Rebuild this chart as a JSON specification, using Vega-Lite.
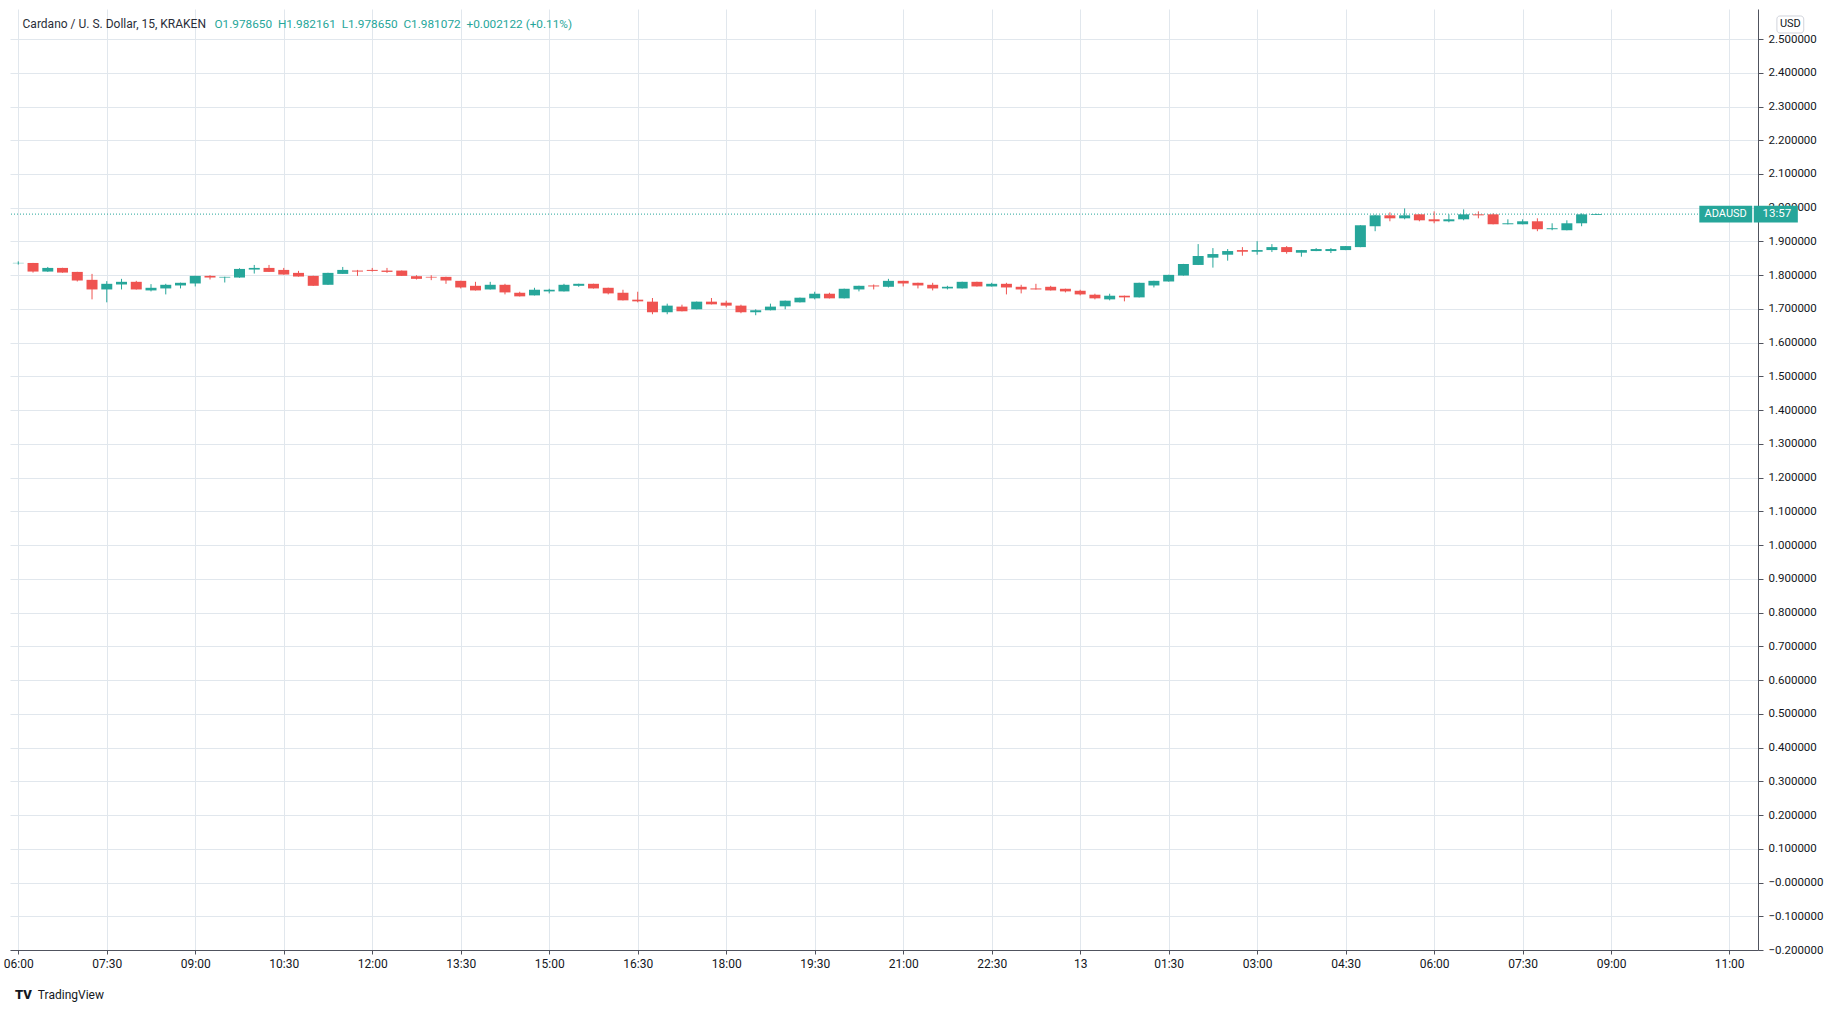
{
  "$schema": "https://vega.github.io/schema/vega-lite/v6.json",
  "width": 1748,
  "height": 941,
  "autosize": {"type": "none"},
  "padding": {"left": 10, "top": 9, "right": 86, "bottom": 64},
  "background": "#ffffff",
  "config": {"view": {"stroke": null}, "font": "Roboto", "axis": {"labelOverlap": false, "labelBound": false, "labelFlush": false}, "axisY": {"labelOverlap": false, "tickCount": 28}},
  "data": {"values": [
    {"t":"2021-08-12T06:00:00Z","o":1.8355,"h":1.8410,"l":1.8315,"c":1.8365},
    {"t":"2021-08-12T06:15:00Z","o":1.8363,"h":1.8365,"l":1.8078,"c":1.8108},
    {"t":"2021-08-12T06:30:00Z","o":1.8108,"h":1.8245,"l":1.8100,"c":1.8216},
    {"t":"2021-08-12T06:45:00Z","o":1.8216,"h":1.8220,"l":1.8075,"c":1.8078},
    {"t":"2021-08-12T07:00:00Z","o":1.8098,"h":1.8100,"l":1.7814,"c":1.7843},
    {"t":"2021-08-12T07:15:00Z","o":1.7863,"h":1.8039,"l":1.7284,"c":1.7578},
    {"t":"2021-08-12T07:30:00Z","o":1.7578,"h":1.7824,"l":1.7196,"c":1.7745},
    {"t":"2021-08-12T07:45:00Z","o":1.7725,"h":1.7892,"l":1.7578,"c":1.7804},
    {"t":"2021-08-12T08:00:00Z","o":1.7804,"h":1.7833,"l":1.7575,"c":1.7578},
    {"t":"2021-08-12T08:15:00Z","o":1.7549,"h":1.7735,"l":1.7520,"c":1.7627},
    {"t":"2021-08-12T08:30:00Z","o":1.7608,"h":1.7745,"l":1.7431,"c":1.7716},
    {"t":"2021-08-12T08:45:00Z","o":1.7696,"h":1.7780,"l":1.7608,"c":1.7775},
    {"t":"2021-08-12T09:00:00Z","o":1.7755,"h":1.7985,"l":1.7667,"c":1.7980},
    {"t":"2021-08-12T09:15:00Z","o":1.7980,"h":1.8000,"l":1.7873,"c":1.7931},
    {"t":"2021-08-12T09:30:00Z","o":1.7931,"h":1.7955,"l":1.7784,"c":1.7951},
    {"t":"2021-08-12T09:45:00Z","o":1.7931,"h":1.8206,"l":1.7925,"c":1.8186},
    {"t":"2021-08-12T10:00:00Z","o":1.8167,"h":1.8304,"l":1.8049,"c":1.8216},
    {"t":"2021-08-12T10:15:00Z","o":1.8216,"h":1.8304,"l":1.8095,"c":1.8098},
    {"t":"2021-08-12T10:30:00Z","o":1.8157,"h":1.8216,"l":1.8015,"c":1.8020},
    {"t":"2021-08-12T10:45:00Z","o":1.8069,"h":1.8128,"l":1.7958,"c":1.7961},
    {"t":"2021-08-12T11:00:00Z","o":1.7980,"h":1.7985,"l":1.7683,"c":1.7686},
    {"t":"2021-08-12T11:15:00Z","o":1.7716,"h":1.8072,"l":1.7713,"c":1.8069},
    {"t":"2021-08-12T11:30:00Z","o":1.8039,"h":1.8245,"l":1.8036,"c":1.8157},
    {"t":"2021-08-12T11:45:00Z","o":1.8137,"h":1.8157,"l":1.7980,"c":1.8108},
    {"t":"2021-08-12T12:00:00Z","o":1.8157,"h":1.8216,"l":1.8108,"c":1.8127},
    {"t":"2021-08-12T12:15:00Z","o":1.8137,"h":1.8216,"l":1.8069,"c":1.8098},
    {"t":"2021-08-12T12:30:00Z","o":1.8137,"h":1.8140,"l":1.7978,"c":1.7980},
    {"t":"2021-08-12T12:45:00Z","o":1.7971,"h":1.8000,"l":1.7873,"c":1.7892},
    {"t":"2021-08-12T13:00:00Z","o":1.7951,"h":1.8000,"l":1.7853,"c":1.7931},
    {"t":"2021-08-12T13:15:00Z","o":1.7951,"h":1.7955,"l":1.7745,"c":1.7843},
    {"t":"2021-08-12T13:30:00Z","o":1.7833,"h":1.7836,"l":1.7608,"c":1.7637},
    {"t":"2021-08-12T13:45:00Z","o":1.7686,"h":1.7804,"l":1.7546,"c":1.7549},
    {"t":"2021-08-12T14:00:00Z","o":1.7578,"h":1.7804,"l":1.7575,"c":1.7716},
    {"t":"2021-08-12T14:15:00Z","o":1.7716,"h":1.7745,"l":1.7431,"c":1.7490},
    {"t":"2021-08-12T14:30:00Z","o":1.7480,"h":1.7510,"l":1.7370,"c":1.7373},
    {"t":"2021-08-12T14:45:00Z","o":1.7402,"h":1.7627,"l":1.7399,"c":1.7569},
    {"t":"2021-08-12T15:00:00Z","o":1.7520,"h":1.7598,"l":1.7461,"c":1.7569},
    {"t":"2021-08-12T15:15:00Z","o":1.7520,"h":1.7745,"l":1.7517,"c":1.7716},
    {"t":"2021-08-12T15:30:00Z","o":1.7686,"h":1.7748,"l":1.7657,"c":1.7745},
    {"t":"2021-08-12T15:45:00Z","o":1.7745,"h":1.7748,"l":1.7605,"c":1.7608},
    {"t":"2021-08-12T16:00:00Z","o":1.7627,"h":1.7630,"l":1.7431,"c":1.7461},
    {"t":"2021-08-12T16:15:00Z","o":1.7480,"h":1.7569,"l":1.7252,"c":1.7255},
    {"t":"2021-08-12T16:30:00Z","o":1.7275,"h":1.7510,"l":1.7196,"c":1.7225},
    {"t":"2021-08-12T16:45:00Z","o":1.7216,"h":1.7324,"l":1.6843,"c":1.6902},
    {"t":"2021-08-12T17:00:00Z","o":1.6902,"h":1.7157,"l":1.6843,"c":1.7098},
    {"t":"2021-08-12T17:15:00Z","o":1.7069,"h":1.7127,"l":1.6928,"c":1.6931},
    {"t":"2021-08-12T17:30:00Z","o":1.6990,"h":1.7219,"l":1.6987,"c":1.7216},
    {"t":"2021-08-12T17:45:00Z","o":1.7216,"h":1.7324,"l":1.7134,"c":1.7137},
    {"t":"2021-08-12T18:00:00Z","o":1.7186,"h":1.7245,"l":1.7049,"c":1.7098},
    {"t":"2021-08-12T18:15:00Z","o":1.7098,"h":1.7127,"l":1.6873,"c":1.6902},
    {"t":"2021-08-12T18:30:00Z","o":1.6902,"h":1.6990,"l":1.6814,"c":1.6961},
    {"t":"2021-08-12T18:45:00Z","o":1.6961,"h":1.7157,"l":1.6958,"c":1.7069},
    {"t":"2021-08-12T19:00:00Z","o":1.7078,"h":1.7248,"l":1.6990,"c":1.7245},
    {"t":"2021-08-12T19:15:00Z","o":1.7196,"h":1.7336,"l":1.7193,"c":1.7333},
    {"t":"2021-08-12T19:30:00Z","o":1.7314,"h":1.7510,"l":1.7284,"c":1.7451},
    {"t":"2021-08-12T19:45:00Z","o":1.7451,"h":1.7480,"l":1.7311,"c":1.7314},
    {"t":"2021-08-12T20:00:00Z","o":1.7314,"h":1.7601,"l":1.7311,"c":1.7598},
    {"t":"2021-08-12T20:15:00Z","o":1.7578,"h":1.7689,"l":1.7520,"c":1.7686},
    {"t":"2021-08-12T20:30:00Z","o":1.7696,"h":1.7725,"l":1.7578,"c":1.7667},
    {"t":"2021-08-12T20:45:00Z","o":1.7657,"h":1.7892,"l":1.7637,"c":1.7833},
    {"t":"2021-08-12T21:00:00Z","o":1.7833,"h":1.7836,"l":1.7667,"c":1.7755},
    {"t":"2021-08-12T21:15:00Z","o":1.7775,"h":1.7778,"l":1.7608,"c":1.7696},
    {"t":"2021-08-12T21:30:00Z","o":1.7716,"h":1.7775,"l":1.7549,"c":1.7608},
    {"t":"2021-08-12T21:45:00Z","o":1.7608,"h":1.7686,"l":1.7578,"c":1.7657},
    {"t":"2021-08-12T22:00:00Z","o":1.7608,"h":1.7807,"l":1.7605,"c":1.7804},
    {"t":"2021-08-12T22:15:00Z","o":1.7804,"h":1.7807,"l":1.7664,"c":1.7667},
    {"t":"2021-08-12T22:30:00Z","o":1.7667,"h":1.7775,"l":1.7664,"c":1.7745},
    {"t":"2021-08-12T22:45:00Z","o":1.7745,"h":1.7775,"l":1.7431,"c":1.7637},
    {"t":"2021-08-12T23:00:00Z","o":1.7657,"h":1.7716,"l":1.7461,"c":1.7578},
    {"t":"2021-08-12T23:15:00Z","o":1.7608,"h":1.7745,"l":1.7575,"c":1.7578},
    {"t":"2021-08-12T23:30:00Z","o":1.7657,"h":1.7686,"l":1.7546,"c":1.7549},
    {"t":"2021-08-12T23:45:00Z","o":1.7598,"h":1.7601,"l":1.7490,"c":1.7520},
    {"t":"2021-08-13T00:00:00Z","o":1.7539,"h":1.7569,"l":1.7402,"c":1.7431},
    {"t":"2021-08-13T00:15:00Z","o":1.7422,"h":1.7451,"l":1.7284,"c":1.7314},
    {"t":"2021-08-13T00:30:00Z","o":1.7284,"h":1.7451,"l":1.7255,"c":1.7392},
    {"t":"2021-08-13T00:45:00Z","o":1.7392,"h":1.7395,"l":1.7225,"c":1.7343},
    {"t":"2021-08-13T01:00:00Z","o":1.7343,"h":1.7778,"l":1.7340,"c":1.7775},
    {"t":"2021-08-13T01:15:00Z","o":1.7696,"h":1.7836,"l":1.7637,"c":1.7833},
    {"t":"2021-08-13T01:30:00Z","o":1.7814,"h":1.8013,"l":1.7811,"c":1.8010},
    {"t":"2021-08-13T01:45:00Z","o":1.7990,"h":1.8336,"l":1.7987,"c":1.8333},
    {"t":"2021-08-13T02:00:00Z","o":1.8304,"h":1.8922,"l":1.8301,"c":1.8569},
    {"t":"2021-08-13T02:15:00Z","o":1.8520,"h":1.8804,"l":1.8225,"c":1.8627},
    {"t":"2021-08-13T02:30:00Z","o":1.8608,"h":1.8775,"l":1.8431,"c":1.8716},
    {"t":"2021-08-13T02:45:00Z","o":1.8745,"h":1.8833,"l":1.8578,"c":1.8696},
    {"t":"2021-08-13T03:00:00Z","o":1.8696,"h":1.9010,"l":1.8608,"c":1.8745},
    {"t":"2021-08-13T03:15:00Z","o":1.8745,"h":1.8922,"l":1.8686,"c":1.8833},
    {"t":"2021-08-13T03:30:00Z","o":1.8833,"h":1.8863,"l":1.8637,"c":1.8686},
    {"t":"2021-08-13T03:45:00Z","o":1.8667,"h":1.8748,"l":1.8549,"c":1.8745},
    {"t":"2021-08-13T04:00:00Z","o":1.8716,"h":1.8804,"l":1.8713,"c":1.8775},
    {"t":"2021-08-13T04:15:00Z","o":1.8716,"h":1.8804,"l":1.8657,"c":1.8775},
    {"t":"2021-08-13T04:30:00Z","o":1.8745,"h":1.8866,"l":1.8742,"c":1.8863},
    {"t":"2021-08-13T04:45:00Z","o":1.8833,"h":1.9483,"l":1.8830,"c":1.9480},
    {"t":"2021-08-13T05:00:00Z","o":1.9451,"h":1.9794,"l":1.9304,"c":1.9775},
    {"t":"2021-08-13T05:15:00Z","o":1.9775,"h":1.9863,"l":1.9598,"c":1.9686},
    {"t":"2021-08-13T05:30:00Z","o":1.9686,"h":1.9980,"l":1.9657,"c":1.9775},
    {"t":"2021-08-13T05:45:00Z","o":1.9804,"h":1.9807,"l":1.9598,"c":1.9627},
    {"t":"2021-08-13T06:00:00Z","o":1.9657,"h":1.9892,"l":1.9539,"c":1.9598},
    {"t":"2021-08-13T06:15:00Z","o":1.9598,"h":1.9804,"l":1.9569,"c":1.9657},
    {"t":"2021-08-13T06:30:00Z","o":1.9657,"h":1.9951,"l":1.9627,"c":1.9804},
    {"t":"2021-08-13T06:45:00Z","o":1.9804,"h":1.9892,"l":1.9686,"c":1.9775},
    {"t":"2021-08-13T07:00:00Z","o":1.9804,"h":1.9833,"l":1.9507,"c":1.9510},
    {"t":"2021-08-13T07:15:00Z","o":1.9510,"h":1.9657,"l":1.9507,"c":1.9539},
    {"t":"2021-08-13T07:30:00Z","o":1.9510,"h":1.9657,"l":1.9507,"c":1.9598},
    {"t":"2021-08-13T07:45:00Z","o":1.9598,"h":1.9686,"l":1.9304,"c":1.9363},
    {"t":"2021-08-13T08:00:00Z","o":1.9363,"h":1.9539,"l":1.9333,"c":1.9392},
    {"t":"2021-08-13T08:15:00Z","o":1.9333,"h":1.9627,"l":1.9330,"c":1.9539},
    {"t":"2021-08-13T08:30:00Z","o":1.9539,"h":1.9833,"l":1.9451,"c":1.9804},
    {"t":"2021-08-13T08:45:00Z","o":1.97865,"h":1.982161,"l":1.97865,"c":1.981072}
  ]},
  "layer": [
    {
      "mark": {"type": "rule", "strokeWidth": 1},
      "encoding": {
        "x": {"field": "t", "type": "temporal",
          "scale": {"type": "utc", "domain": [
            {"year": 2021, "month": 8, "date": 12, "hours": 5, "minutes": 56, "seconds": 40, "utc": true},
            {"year": 2021, "month": 8, "date": 13, "hours": 11, "minutes": 24, "seconds": 18, "utc": true}]},
          "axis": {
            "title": null, "orient": "bottom",
            "values": [
              {"year": 2021, "month": 8, "date": 12, "hours": 6, "minutes": 0, "utc": true},
              {"year": 2021, "month": 8, "date": 12, "hours": 7, "minutes": 30, "utc": true},
              {"year": 2021, "month": 8, "date": 12, "hours": 9, "minutes": 0, "utc": true},
              {"year": 2021, "month": 8, "date": 12, "hours": 10, "minutes": 30, "utc": true},
              {"year": 2021, "month": 8, "date": 12, "hours": 12, "minutes": 0, "utc": true},
              {"year": 2021, "month": 8, "date": 12, "hours": 13, "minutes": 30, "utc": true},
              {"year": 2021, "month": 8, "date": 12, "hours": 15, "minutes": 0, "utc": true},
              {"year": 2021, "month": 8, "date": 12, "hours": 16, "minutes": 30, "utc": true},
              {"year": 2021, "month": 8, "date": 12, "hours": 18, "minutes": 0, "utc": true},
              {"year": 2021, "month": 8, "date": 12, "hours": 19, "minutes": 30, "utc": true},
              {"year": 2021, "month": 8, "date": 12, "hours": 21, "minutes": 0, "utc": true},
              {"year": 2021, "month": 8, "date": 12, "hours": 22, "minutes": 30, "utc": true},
              {"year": 2021, "month": 8, "date": 13, "hours": 0, "minutes": 0, "utc": true},
              {"year": 2021, "month": 8, "date": 13, "hours": 1, "minutes": 30, "utc": true},
              {"year": 2021, "month": 8, "date": 13, "hours": 3, "minutes": 0, "utc": true},
              {"year": 2021, "month": 8, "date": 13, "hours": 4, "minutes": 30, "utc": true},
              {"year": 2021, "month": 8, "date": 13, "hours": 6, "minutes": 0, "utc": true},
              {"year": 2021, "month": 8, "date": 13, "hours": 7, "minutes": 30, "utc": true},
              {"year": 2021, "month": 8, "date": 13, "hours": 9, "minutes": 0, "utc": true},
              {"year": 2021, "month": 8, "date": 13, "hours": 11, "minutes": 0, "utc": true}
            ],
            "labelExpr": "utcFormat(datum.value, '%H:%M') == '00:00' ? utcFormat(datum.value, '%d') : utcFormat(datum.value, '%H:%M')",
            "grid": true, "gridColor": "#e1e7ed", "gridWidth": 1,
            "domainColor": "#50535e", "domainWidth": 1,
            "tickColor": "#50535e", "tickSize": 4,
            "labelFont": "Roboto", "labelFontSize": 12, "labelColor": "#131722",
            "labelPadding": 4, "labelFlush": false, "labelOverlap": false, "labelBound": false
          }
        },
        "y": {"field": "l", "type": "quantitative",
          "scale": {"domain": [-0.2, 2.589], "nice": false, "zero": false},
          "axis": {
            "title": null, "orient": "right",
            "values": [-0.2, -0.1, 0, 0.1, 0.2, 0.3, 0.4, 0.5, 0.6, 0.7, 0.8, 0.9, 1.0, 1.1, 1.2, 1.3, 1.4, 1.5, 1.6, 1.7, 1.8, 1.9, 2.0, 2.1, 2.2, 2.3, 2.4, 2.5],
            "tickCount": 28,
            "labelExpr": "abs(datum.value) < 0.00001 ? '\u22120.000000' : format(datum.value, '.6f')",
            "grid": true, "gridColor": "#e1e7ed", "gridWidth": 1,
            "domainColor": "#50535e", "domainWidth": 1,
            "tickColor": "#50535e", "tickSize": 5,
            "labelFont": "Roboto", "labelFontSize": 11.5, "labelColor": "#131722",
            "labelPadding": 5, "labelAlign": "left", "labelFlush": false, "labelOverlap": false, "labelBound": false
          }
        },
        "y2": {"field": "h"},
        "color": {"condition": {"test": "datum.c >= datum.o", "value": "#26a69a"}, "value": "#ef5350"}
      }
    },
    {
      "data": {"values": [{}]},
      "mark": {"type": "rule", "color": "#26a69a", "strokeWidth": 1, "strokeDash": [1, 2]},
      "encoding": {
        "y": {"datum": 1.981072, "type": "quantitative"}
      }
    },
    {
      "mark": {"type": "bar", "size": 11},
      "encoding": {
        "x": {"field": "t", "type": "temporal"},
        "y": {"field": "o", "type": "quantitative"},
        "y2": {"field": "c"},
        "color": {"condition": {"test": "datum.c >= datum.o", "value": "#26a69a"}, "value": "#ef5350"}
      }
    },
    {
      "data": {"values": [{}]},
      "mark": {"type": "text", "align": "left", "baseline": "middle", "fontSize": 12, "font": "Roboto", "color": "#2a2e39", "text": "Cardano / U. S. Dollar, 15, KRAKEN"},
      "encoding": {
        "x": {"datum": {"year": 2021, "month": 8, "date": 12, "hours": 6, "minutes": 4, "seconds": 21, "utc": true}, "type": "temporal"},
        "y": {"datum": 2.5445, "type": "quantitative"}
      }
    },
    {
      "data": {"values": [{}]},
      "mark": {"type": "text", "align": "left", "baseline": "middle", "fontSize": 11.8, "font": "Roboto", "color": "#26a69a", "text": "O1.978650\u00a0\u00a0H1.982161\u00a0\u00a0L1.978650\u00a0\u00a0C1.981072\u00a0\u00a0+0.002122 (+0.11%)"},
      "encoding": {
        "x": {"datum": {"year": 2021, "month": 8, "date": 12, "hours": 9, "minutes": 19, "seconds": 30, "utc": true}, "type": "temporal"},
        "y": {"datum": 2.5445, "type": "quantitative"}
      }
    },
    {
      "data": {"values": [{}]},
      "mark": {"type": "rect", "color": "#26a69a"},
      "encoding": {
        "x": {"datum": {"year": 2021, "month": 8, "date": 13, "hours": 10, "minutes": 29, "seconds": 42, "utc": true}, "type": "temporal"},
        "x2": {"datum": {"year": 2021, "month": 8, "date": 13, "hours": 11, "minutes": 23, "seconds": 30, "utc": true}},
        "y": {"datum": 1.9564, "type": "quantitative"},
        "y2": {"datum": 2.0058}
      }
    },
    {
      "data": {"values": [{}]},
      "mark": {"type": "rect", "color": "#26a69a"},
      "encoding": {
        "x": {"datum": {"year": 2021, "month": 8, "date": 13, "hours": 11, "minutes": 25, "seconds": 6, "utc": true}, "type": "temporal"},
        "x2": {"datum": {"year": 2021, "month": 8, "date": 13, "hours": 12, "minutes": 9, "seconds": 54, "utc": true}},
        "y": {"datum": 1.9564, "type": "quantitative"},
        "y2": {"datum": 2.0058}
      }
    },
    {
      "data": {"values": [{}]},
      "mark": {"type": "text", "align": "center", "baseline": "middle", "fontSize": 11, "font": "Roboto", "color": "#ffffff", "text": "ADAUSD"},
      "encoding": {
        "x": {"datum": {"year": 2021, "month": 8, "date": 13, "hours": 10, "minutes": 56, "seconds": 30, "utc": true}, "type": "temporal"},
        "y": {"datum": 1.981, "type": "quantitative"}
      }
    },
    {
      "data": {"values": [{}]},
      "mark": {"type": "text", "align": "center", "baseline": "middle", "fontSize": 11.5, "font": "Roboto", "color": "#ffffff", "text": "13:57"},
      "encoding": {
        "x": {"datum": {"year": 2021, "month": 8, "date": 13, "hours": 11, "minutes": 48, "seconds": 36, "utc": true}, "type": "temporal"},
        "y": {"datum": 1.981, "type": "quantitative"}
      }
    },
    {
      "data": {"values": [{}]},
      "mark": {"type": "rect", "fill": "#ffffff", "stroke": "#d1d4dc", "strokeWidth": 1, "cornerRadius": 3},
      "encoding": {
        "x": {"datum": {"year": 2021, "month": 8, "date": 13, "hours": 11, "minutes": 48, "seconds": 36, "utc": true}, "type": "temporal"},
        "x2": {"datum": {"year": 2021, "month": 8, "date": 13, "hours": 12, "minutes": 15, "seconds": 54, "utc": true}},
        "y": {"datum": 2.5179, "type": "quantitative"},
        "y2": {"datum": 2.5683}
      }
    },
    {
      "data": {"values": [{}]},
      "mark": {"type": "text", "align": "center", "baseline": "middle", "fontSize": 11, "font": "Roboto", "color": "#131722", "text": "USD"},
      "encoding": {
        "x": {"datum": {"year": 2021, "month": 8, "date": 13, "hours": 12, "minutes": 2, "seconds": 15, "utc": true}, "type": "temporal"},
        "y": {"datum": 2.5431, "type": "quantitative"}
      }
    },
    {
      "data": {"values": [{}]},
      "mark": {"type": "text", "align": "center", "baseline": "middle", "fontSize": 13, "font": "Roboto", "fontWeight": 900, "color": "#131722", "text": "TV"},
      "encoding": {
        "x": {"datum": {"year": 2021, "month": 8, "date": 12, "hours": 6, "minutes": 5, "seconds": 16, "utc": true}, "type": "temporal"},
        "y": {"datum": -0.3334, "type": "quantitative"}
      }
    },
    {
      "data": {"values": [{}]},
      "mark": {"type": "text", "align": "left", "baseline": "middle", "fontSize": 12, "font": "Roboto", "color": "#131722", "text": "TradingView"},
      "encoding": {
        "x": {"datum": {"year": 2021, "month": 8, "date": 12, "hours": 6, "minutes": 19, "seconds": 55, "utc": true}, "type": "temporal"},
        "y": {"datum": -0.3334, "type": "quantitative"}
      }
    }
  ]
}
